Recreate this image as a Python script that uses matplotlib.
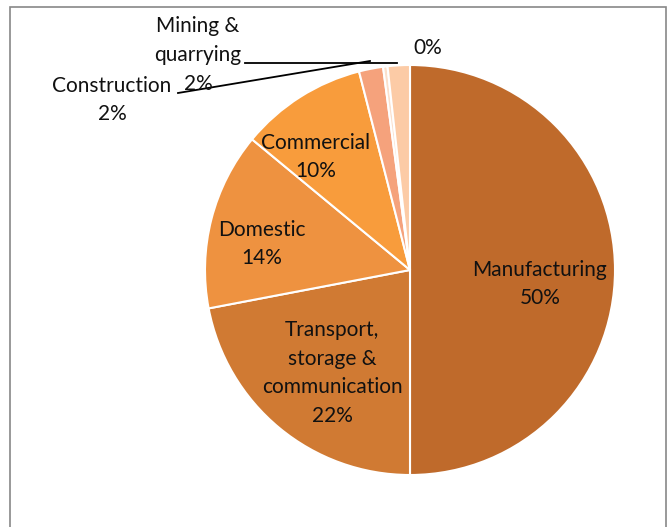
import matplotlib
matplotlib.use("Agg")
import matplotlib.pyplot as plt
from matplotlib.patches import Rectangle

categories = ["Manufacturing", "Transport,\nstorage &\ncommunication", "Domestic",
              "Commercial", "Construction", "Other", "Mining &\nquarrying"]
values = [50, 22, 14, 10, 1.9, 0.35, 1.75]
pct_labels = ["50%", "22%", "14%", "10%", "2%", "0%", "2%"]
colors = ["#BF6A2B", "#D07A33", "#EE9240", "#F89C3C", "#F5A27C", "#FBE0CC", "#FCCBA6"]

plt.rcParams['font.family'] = ['Lato', 'DejaVu Sans']

W, H = 670, 527
fig = plt.figure(figsize=(W / 100, H / 100), dpi=100)
fig.patch.set_facecolor("white")

cx, cy, r = 410, 270, 205
ax = fig.add_axes([(cx - r) / W, (H - cy - r) / H, 2 * r / W, 2 * r / H])
ax.pie(values, colors=colors, startangle=90, counterclock=False,
       wedgeprops=dict(edgecolor="white", linewidth=1.5))
ax.set_xlim(-1, 1)
ax.set_ylim(-1, 1)
ax.set_aspect("auto")
ax.axis("off")

def px(x, y):
    return (x / W, 1 - y / H)

fs = 15
txt = dict(fontsize=fs, ha="center", va="center", color="#111111",
           linespacing=1.55, transform=fig.transFigure)
fig.text(*px(540, 284), categories[0] + "\n" + pct_labels[0], **txt)
fig.text(*px(332, 373), categories[1] + "\n" + pct_labels[1], **txt)
fig.text(*px(262, 244), categories[2] + "\n" + pct_labels[2], **txt)
fig.text(*px(316, 157), categories[3] + "\n" + pct_labels[3], **txt)
fig.text(*px(112, 100), categories[4] + "\n" + pct_labels[4], **txt)
fig.text(*px(198, 55), categories[6] + "\n" + pct_labels[6], **txt)
fig.text(*px(428, 48), pct_labels[5], **txt)

# leader lines
fig.add_artist(plt.Line2D([245 / W, 397 / W], [1 - 63 / H, 1 - 63 / H],
                          color="black", lw=1.3, transform=fig.transFigure))
fig.add_artist(plt.Line2D([178 / W, 370 / W], [1 - 93 / H, 1 - 61 / H],
                          color="black", lw=1.3, transform=fig.transFigure))

# frame
fig.add_artist(Rectangle((10 / W, -0.02), 656 / W, 1.02 - 7 / H, fill=False,
                         edgecolor="#888888", lw=1.2, transform=fig.transFigure))

fig.savefig("out.png", dpi=100)
